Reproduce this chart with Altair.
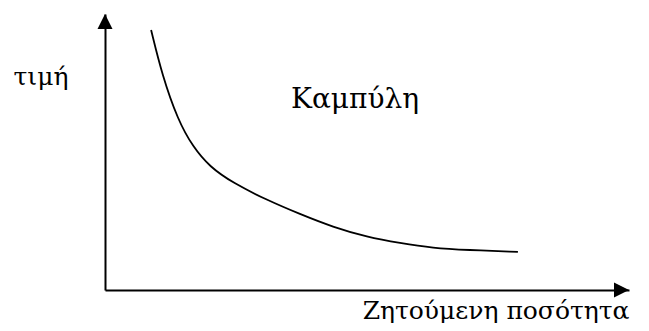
import altair as alt
import pandas as pd

# Demand curve (quantity, price) in arbitrary units 0..10
quantity = [0.88, 1.09, 1.39, 1.68, 2.00, 2.44, 3.09, 3.72, 4.35, 5.00, 5.63, 6.26, 6.91, 7.88]
price = [9.42, 7.79, 6.16, 5.18, 4.46, 3.88, 3.26, 2.75, 2.28, 1.92, 1.70, 1.52, 1.45, 1.38]

x_title = "Ζητούμενη ποσότητα"
y_title = "τιμή"
curve_label = ["Καμπύλη"]
label_x = [3.55]
label_y = [6.59]

x_max = 10
y_max = 10

FONT = "DejaVu Serif"
FS = 25
FS_LABEL = 28

curve_df = pd.DataFrame({"q": quantity, "p": price})
label_df = pd.DataFrame({"q": label_x, "p": label_y, "t": curve_label})
arrow_up_df = pd.DataFrame({"q": [0], "p": [y_max]})
arrow_right_df = pd.DataFrame({"q": [x_max], "p": [0]})

xs = alt.Scale(domain=[0, x_max], nice=False, zero=True)
ys = alt.Scale(domain=[0, y_max], nice=False, zero=True)

x_axis = alt.Axis(
    title=x_title, ticks=False, labels=False, grid=False,
    domainColor="black", domainWidth=2,
    titleFont=FONT, titleFontSize=FS, titleFontWeight="normal", titleColor="black",
    titleAnchor="end", titleAlign="right", titleBaseline="alphabetic",
    titleX=524, titleY=28,
)
y_axis = alt.Axis(
    title=y_title, ticks=False, labels=False, grid=False,
    domainColor="black", domainWidth=2,
    titleFont=FONT, titleFontSize=FS, titleFontWeight="normal", titleColor="black",
    titleAngle=0, titleAlign="left", titleBaseline="alphabetic",
    titleX=-92, titleY=70,
)

curve = alt.Chart(curve_df).mark_line(
    color="black", strokeWidth=1.8, interpolate="basis"
).encode(
    x=alt.X("q:Q", scale=xs, axis=x_axis),
    y=alt.Y("p:Q", scale=ys, axis=y_axis),
)

label = alt.Chart(label_df).mark_text(
    font=FONT, fontSize=FS_LABEL, color="black", align="left", baseline="alphabetic"
).encode(
    x=alt.X("q:Q", scale=xs),
    y=alt.Y("p:Q", scale=ys),
    text="t:N",
)

arrow_up = alt.Chart(arrow_up_df).mark_point(
    shape="M-1,2L0,0L1,2Z", size=225, filled=True, color="black", opacity=1
).encode(
    x=alt.X("q:Q", scale=xs),
    y=alt.Y("p:Q", scale=ys),
)

arrow_right = alt.Chart(arrow_right_df).mark_point(
    shape="M0,0L-2,-1L-2,1Z", size=225, filled=True, color="black", opacity=1
).encode(
    x=alt.X("q:Q", scale=xs),
    y=alt.Y("p:Q", scale=ys),
)

chart = alt.layer(curve, label, arrow_up, arrow_right).properties(
    width=524, height=276,
    autosize=alt.AutoSizeParams(type="none"),
    padding={"left": 97, "top": 6, "right": 12, "bottom": 33},
    background="white",
).configure_view(strokeWidth=0)

chart.save("out.html", embed_options={"renderer": "svg", "actions": False})
